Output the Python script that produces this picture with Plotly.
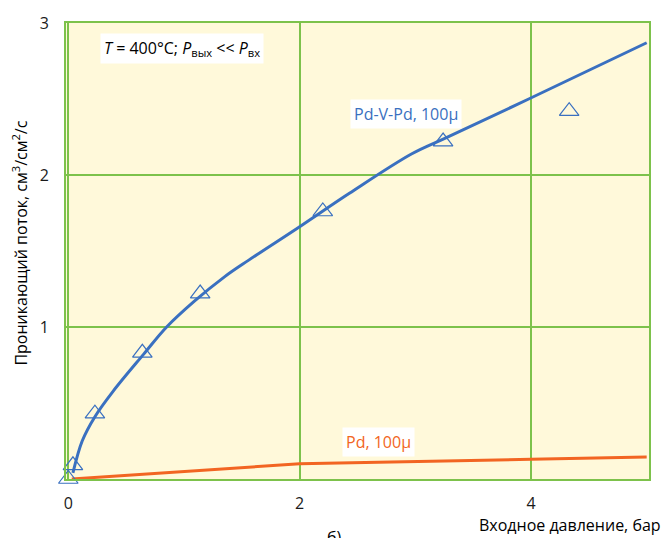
import plotly.graph_objects as go

# Data
pdv_curve_x = [0.04, 0.12, 0.23, 0.39, 0.65, 0.85, 1.09, 1.35, 1.56, 2.0, 2.43, 2.97, 3.25, 3.98, 5.0]
pdv_curve_y = [0.04, 0.25, 0.41, 0.58, 0.82, 1.0, 1.17, 1.33, 1.44, 1.66, 1.88, 2.14, 2.24, 2.5, 2.87]
pdv_pts_x = [0.0, 0.04, 0.23, 0.64, 1.14, 2.2, 3.24, 4.33]
pdv_pts_y = [0.0, 0.09, 0.43, 0.83, 1.22, 1.76, 2.22, 2.42]
pd_x = [0.03, 2.0, 4.0, 5.0]
pd_y = [0.0, 0.10, 0.13, 0.145]
x_ticks = [0, 2, 4]
y_ticks = [1, 2, 3]

BLUE = "#3A70C0"
ORANGE = "#F26522"
GRID = "#7DC24B"
BG = "#FFF9DA"
FONT = "Open Sans"

fig = go.Figure()
fig.add_trace(go.Scatter(x=pd_x, y=pd_y, mode="lines",
                         line=dict(color=ORANGE, width=3), showlegend=False, cliponaxis=False))
fig.add_trace(go.Scatter(x=pdv_curve_x, y=pdv_curve_y, mode="lines",
                         line=dict(color=BLUE, width=3, shape="spline", smoothing=1.0),
                         showlegend=False, cliponaxis=False))
fig.add_trace(go.Scatter(x=pdv_pts_x, y=pdv_pts_y, mode="markers",
                         marker=dict(symbol="triangle-up-open", size=17, color=BLUE,
                                     line=dict(width=1.2, color=BLUE)),
                         showlegend=False, cliponaxis=False))

fig.update_layout(
    width=665, height=538,
    margin=dict(l=66, r=16, t=18, b=59),
    paper_bgcolor="white", plot_bgcolor=BG,
    font=dict(family=FONT, size=16, color="#1a1a1a"),
    xaxis=dict(range=[-0.02, 5.02], tickvals=x_ticks, showgrid=True, gridcolor=GRID,
               gridwidth=1.5, zeroline=False, showline=True, linecolor=GRID, linewidth=2,
               mirror=True, ticks="", ticklabelstandoff=9, tickfont=dict(size=16, family=FONT)),
    yaxis=dict(range=[0, 3], tickvals=y_ticks, showgrid=True, gridcolor=GRID,
               gridwidth=1.5, zeroline=False, showline=True, linecolor=GRID, linewidth=2,
               mirror=True, ticks="", ticklabelstandoff=12, tickfont=dict(size=16, family=FONT)),
)

# pixel positions for paper annotations
pl, pr, pt, pb = 66, 665 - 16, 18, 538 - 59
def px(x):
    return (x - pl) / (pr - pl)
def py(y):
    return (pb - y) / (pb - pt)

anns = [
    dict(x=0.27, y=2.83, xref="x", yref="y", xanchor="left", yanchor="middle",
         text="<i>T</i> = 400°C; <i>P</i><sub>вых</sub> &lt;&lt; <i>P</i><sub>вх</sub>",
         showarrow=False, bgcolor="white", borderpad=3,
         font=dict(size=16, family=FONT, color="black")),
    dict(x=px(406), y=py(110), xref="paper", yref="paper", xanchor="center", yanchor="middle",
         text="Pd-V-Pd, 100μ", showarrow=False,
         font=dict(size=16, family=FONT, color=BLUE), bgcolor="white", borderpad=3),
    dict(x=px(378), y=py(442), xref="paper", yref="paper", xanchor="center", yanchor="middle",
         text="Pd, 100μ", showarrow=False,
         font=dict(size=16, family=FONT, color=ORANGE), bgcolor="white", borderpad=3),
    dict(x=px(20), y=py(241), xref="paper", yref="paper", xanchor="center", yanchor="middle",
         text="Проникающий поток, см<sup>3</sup>/см<sup>2</sup>/с",
         textangle=-90, showarrow=False, font=dict(size=16, family=FONT, color="black")),
    dict(x=px(663), y=py(525), xref="paper", yref="paper", xanchor="right", yanchor="middle",
         text="Входное давление, бар",
         showarrow=False, font=dict(size=16, family=FONT, color="black")),
    dict(x=px(334), y=py(538), xref="paper", yref="paper", xanchor="center", yanchor="middle",
         text="б)", showarrow=False, font=dict(size=16, family=FONT, color="black")),
]
fig.update_layout(annotations=anns)

fig.write_html("out.html")
